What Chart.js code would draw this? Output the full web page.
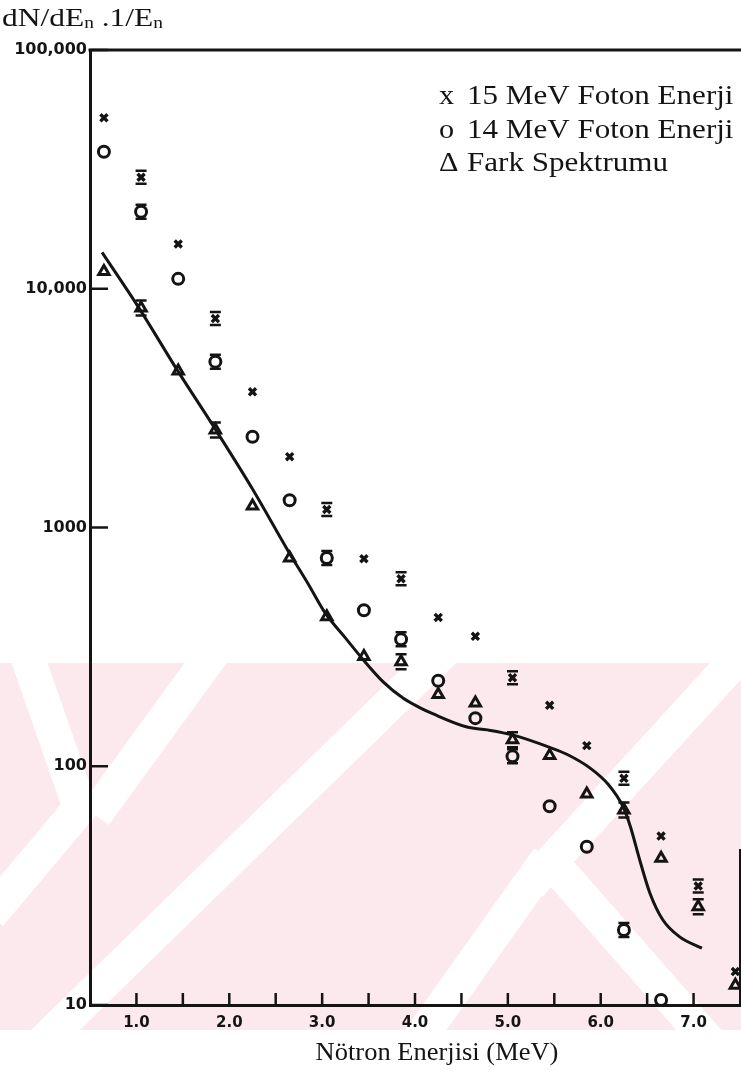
<!DOCTYPE html>
<html>
<head>
<meta charset="utf-8">
<script src="https://cdn.jsdelivr.net/npm/chart.js@4.4.1/dist/chart.umd.min.js"></script>
<style>
  html, body { margin: 0; padding: 0; background: #fff; overflow: hidden; }
  #kutu { width: 741px; height: 1077px; position: relative; }
</style>
</head>
<body>
<div id="kutu"><canvas id="spektrumChart" width="741" height="1077"></canvas></div>
<script>
// Nötron enerjileri (MeV) - ölçüm noktaları
const enerjiler = [0.65, 1.05, 1.45, 1.85, 2.25, 2.65, 3.05, 3.45, 3.85, 4.25, 4.65, 5.05, 5.45, 5.85, 6.25, 6.65, 7.05, 7.45];

// x : 15 MeV foton enerjisi
const foton15 = [52000, 29300, 15400, 7500, 3700, 1980, 1190, 740, 610, 420, 350, 235, 180, 122, 89, 51, 31.5, 13.8];
// o : 14 MeV foton enerjisi
const foton14 = [37500, 21000, 11000, 4950, 2400, 1300, 745, 450, 340, 228, 159, 110, 68, 46, 20.6, 10.5, null, null];
// Δ : fark spektrumu
const farkSpektrumu = [11800, 8300, 4520, 2560, 1230, 745, 423, 288, 274, 200, 184, 129, 111, 76.5, 65.6, 41.2, 25.8, 12.1];

// hata çubuğu olan noktalar (1 = var)
const hata15 = [0, 1, 0, 1, 0, 0, 1, 0, 1, 0, 0, 1, 0, 0, 1, 0, 1, 0];
const hata14 = [0, 1, 0, 1, 0, 0, 1, 0, 1, 0, 0, 1, 0, 0, 1, 0];
const hataFark = [0, 1, 0, 1, 0, 0, 0, 0, 1, 0, 0, 1, 0, 0, 1, 0, 1, 0];

// Fark spektrumuna çizilen eğri
const egriEnerji = [0.63, 1.03, 1.44, 1.85, 2.25, 2.64, 2.85, 3.03, 3.25, 3.44, 3.66, 3.87, 4.05, 4.19, 4.56, 4.78, 5.06, 5.45, 5.64, 5.89, 6.08, 6.24, 6.32, 6.42, 6.53, 6.67, 6.85, 7.09];
const egriDeger = [14200, 8280, 4560, 2580, 1450, 790, 580, 440, 345, 280, 225, 193, 176, 166, 146, 142, 135, 120, 112, 98, 84, 67.7, 55.8, 40.5, 29.4, 22.7, 19.3, 17.3];

// Eksen tikleri
const yTikler = [10, 100, 1000, 10000, 100000];
const yEtiketler = ['10', '100', '1000', '10,000', '100,000'];
const xTikler = [1, 2, 3, 4, 5, 6, 7];
const xAraTikler = [1.5, 2.5, 3.5, 4.5, 5.5, 6.5];

// Lejant
const seriSembolleri = ['x', 'o', 'Δ'];
const seriAdlari = ['15 MeV Foton Enerji', '14 MeV Foton Enerji', 'Fark Spektrumu'];

const SERIF = '"Liberation Serif", "Times New Roman", serif';
const siyah = '#141414';

function noktalar(degerler) {
  return enerjiler
    .map((x, i) => ({ x, y: degerler[i] }))
    .filter(p => p.y !== null && p.y !== undefined);
}

function yazi(ctx, metin, x, y, boyut, hizala, olcek) {
  ctx.save();
  ctx.font = boyut + 'px ' + SERIF;
  ctx.fillStyle = siyah;
  ctx.textBaseline = 'middle';
  ctx.translate(x, y);
  ctx.scale(olcek, 1);
  const w = ctx.measureText(metin).width;
  ctx.fillText(metin, hizala === 'center' ? -w / 2 : 0, 0);
  ctx.restore();
  return w * olcek;
}

// Arka plandaki pembe filigran bandı
function filigran(ctx) {
  ctx.save();
  ctx.beginPath();
  ctx.rect(0, 663, 741, 367);
  ctx.clip();
  ctx.fillStyle = '#fce9ed';
  ctx.fillRect(0, 663, 741, 367);
  ctx.strokeStyle = '#ffffff';
  ctx.lineWidth = 34;
  const seritler = [
    [[25, 650], [80, 808], [-10, 915]],
    [[215, 650], [95, 815]],
    [[445, 650], [40, 1045]],
    [[745, 650], [530, 885]],
    [[548, 858], [415, 1045]],
    [[548, 858], [712, 1045]]
  ];
  seritler.forEach(s => {
    ctx.beginPath();
    ctx.moveTo(s[0][0], s[0][1]);
    for (let i = 1; i < s.length; i++) ctx.lineTo(s[i][0], s[i][1]);
    ctx.stroke();
  });
  ctx.restore();
}

const cizimEklentisi = {
  id: 'cizimler',
  beforeDraw(chart) {
    filigran(chart.ctx);
  },
  afterDatasetsDraw(chart) {
    // hata çubukları (kum saati görünümü)
    const ctx = chart.ctx;
    ctx.save();
    ctx.strokeStyle = siyah;
    ctx.lineWidth = 2.5;
    chart.data.datasets.forEach((ds, di) => {
      if (!ds.hataCubugu) return;
      const meta = chart.getDatasetMeta(di);
      meta.data.forEach((el, i) => {
        if (!ds.hataCubugu[i]) return;
        const r = ds.pointRadius + 1.5;
        ctx.beginPath();
        ctx.moveTo(el.x - 5.5, el.y - r);
        ctx.lineTo(el.x + 5.5, el.y - r);
        ctx.moveTo(el.x - 5.5, el.y + r);
        ctx.lineTo(el.x + 5.5, el.y + r);
        ctx.stroke();
      });
    });
    ctx.restore();
  },
  afterDraw(chart) {
    const ctx = chart.ctx;
    const a = chart.chartArea;
    const xs = chart.scales.x;
    const ys = chart.scales.y;

    ctx.save();
    ctx.strokeStyle = siyah;
    ctx.lineCap = 'butt';

    // üst çerçeve ve sağ kenar
    ctx.lineWidth = 3;
    ctx.beginPath();
    ctx.moveTo(a.left - 1.5, a.top);
    ctx.lineTo(741, a.top);
    ctx.stroke();
    ctx.lineWidth = 2;
    ctx.beginPath();
    ctx.moveTo(a.right, ys.getPixelForValue(45));
    ctx.lineTo(a.right, a.bottom);
    ctx.stroke();

    // içe dönük tikler
    ctx.lineWidth = 2.5;
    yTikler.forEach(v => {
      const y = ys.getPixelForValue(v);
      ctx.beginPath();
      ctx.moveTo(a.left, y);
      ctx.lineTo(a.left + 18, y);
      ctx.stroke();
    });
    xTikler.concat(xAraTikler).forEach(v => {
      const x = xs.getPixelForValue(v);
      ctx.beginPath();
      ctx.moveTo(x, a.bottom);
      ctx.lineTo(x, a.bottom - 12);
      ctx.stroke();
    });
    ctx.restore();

    // lejant
    seriAdlari.forEach((ad, i) => {
      const y = 97 + i * 33.5;
      yazi(ctx, seriSembolleri[i], 439, y, 27, 'left', 1.12);
      yazi(ctx, ad, 467, y, 27, 'left', 1.15);
    });

    // eksen başlıkları
    yazi(ctx, 'Nötron Enerjisi (MeV)', 437, 1053, 25, 'center', 1.06);

    let x = 2;
    const yb = 19;
    x += yazi(ctx, 'dN/dE', x, yb, 26, 'left', 1.21);
    x += yazi(ctx, 'n', x, yb + 5, 16, 'left', 1.21);
    x += yazi(ctx, ' .1/E', x, yb, 26, 'left', 1.21);
    yazi(ctx, 'n', x, yb + 5, 16, 'left', 1.21);
  }
};

const ctx = document.getElementById('spektrumChart').getContext('2d');

new Chart(ctx, {
  type: 'scatter',
  data: {
    datasets: [
      {
        label: 'Eğri',
        data: egriEnerji.map((x, i) => ({ x, y: egriDeger[i] })),
        showLine: true,
        borderColor: siyah,
        borderWidth: 3,
        pointRadius: 0,
        cubicInterpolationMode: 'monotone',
        order: 4
      },
      {
        label: seriAdlari[0],
        data: noktalar(foton15),
        hataCubugu: hata15,
        pointStyle: 'crossRot',
        pointRadius: 5,
        borderColor: siyah,
        borderWidth: 3.4,
        order: 1
      },
      {
        label: seriAdlari[1],
        data: noktalar(foton14),
        hataCubugu: hata14,
        pointStyle: 'circle',
        pointRadius: 5.5,
        borderColor: siyah,
        backgroundColor: 'rgba(0,0,0,0)',
        borderWidth: 3,
        order: 2
      },
      {
        label: seriAdlari[2],
        data: noktalar(farkSpektrumu),
        hataCubugu: hataFark,
        pointStyle: 'triangle',
        pointRadius: 6,
        borderColor: siyah,
        backgroundColor: 'rgba(0,0,0,0)',
        borderWidth: 3,
        order: 3
      }
    ]
  },
  options: {
    responsive: false,
    animation: false,
    devicePixelRatio: 1,
    layout: { autoPadding: false, padding: { top: 50, right: 1, left: 0, bottom: 0 } },
    plugins: {
      legend: { display: false },
      tooltip: { enabled: false }
    },
    scales: {
      x: {
        type: 'linear',
        min: 0.5,
        max: 7.5,
        grid: { display: false, drawTicks: false },
        border: { display: true, color: siyah, width: 3 },
        afterBuildTicks: s => { s.ticks = xTikler.map(v => ({ value: v })); },
        afterFit: s => { s.height = 72; s.paddingLeft = 0; s.paddingRight = 0; },
        ticks: {
          color: siyah,
          padding: 9,
          autoSkip: false,
          maxRotation: 0,
          font: { family: '"DejaVu Sans", sans-serif', weight: 'bold', size: 15 },
          callback: v => Number(v).toFixed(1)
        }
      },
      y: {
        type: 'logarithmic',
        min: 10,
        max: 100000,
        grid: { display: false, drawTicks: false },
        border: { display: true, color: siyah, width: 3 },
        afterBuildTicks: s => { s.ticks = yTikler.map(v => ({ value: v })); },
        afterFit: s => { s.width = 90; },
        ticks: {
          color: siyah,
          padding: 3,
          autoSkip: false,
          font: { family: '"DejaVu Sans", sans-serif', weight: 'bold', size: 16 },
          callback: v => {
            const i = yTikler.indexOf(Number(v));
            return i >= 0 ? yEtiketler[i] : '';
          }
        }
      }
    }
  },
  plugins: [cizimEklentisi]
});
</script>
</body>
</html>
